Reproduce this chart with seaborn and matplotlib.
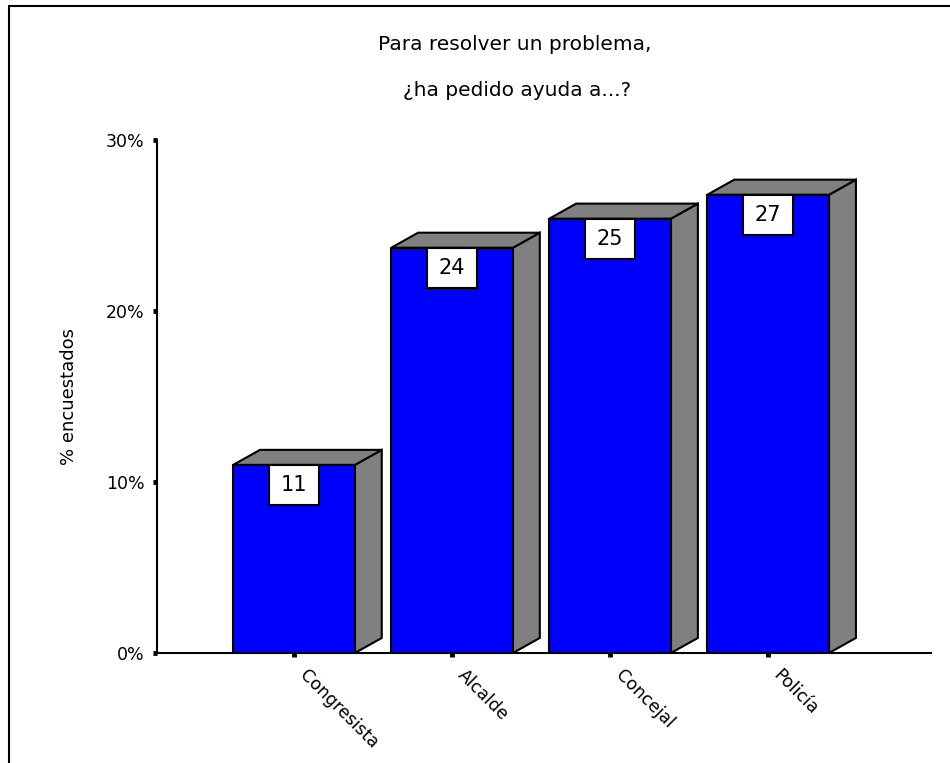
import numpy as np
import pandas as pd
import matplotlib
matplotlib.use('Agg')
import matplotlib.pyplot as plt
import matplotlib.transforms as mtransforms
import seaborn as sns
from matplotlib.patches import Polygon, Rectangle
from matplotlib.lines import Line2D


categories = ['Congresista', 'Alcalde', 'Concejal', 'Policía']
percent = [11.0, 23.7, 25.4, 26.8]
bar_labels = ['11', '24', '25', '27']
yticks = [0, 10, 20, 30]
ytick_labels = ['0%', '10%', '20%', '30%']
title_lines = ['Para resolver un problema,', '¿ha pedido ayuda a...?']

df = pd.DataFrame({'cargo': categories, 'pct': percent})

sns.set_style('white')
plt.rcParams['font.family'] = ['DejaVu Sans']
plt.rcParams['text.color'] = 'black'
plt.rcParams['axes.labelcolor'] = 'black'
plt.rcParams['xtick.color'] = 'black'
plt.rcParams['ytick.color'] = 'black'

fig = plt.figure(figsize=(9.5, 7.63), dpi=100)
ax = fig.add_axes([157/950, 110/763, 774/950, 513/763])

sns.barplot(data=df, x='cargo', y='pct', color='#0000FF', saturation=1,
            width=0.77, edgecolor='black', linewidth=1.5, ax=ax, zorder=3)

# fake 3d depth
dx, dy = 0.17, 0.88
bw, bh = 0.316, 2.34
bars = list(ax.patches)
for bar, lab in zip(bars, bar_labels):
    x0 = bar.get_x()
    x1 = x0 + bar.get_width()
    h = bar.get_height()
    side = Polygon([(x1, 0), (x1 + dx, dy), (x1 + dx, h + dy), (x1, h)], closed=True,
                   facecolor='#808080', edgecolor='black', linewidth=1.5, zorder=2)
    top = Polygon([(x0, h), (x0 + dx, h + dy), (x1 + dx, h + dy), (x1, h)], closed=True,
                  facecolor='#808080', edgecolor='black', linewidth=1.5, zorder=2)
    ax.add_patch(side)
    ax.add_patch(top)
    cx = x0 + bar.get_width() / 2
    ax.add_patch(Rectangle((cx - bw / 2, h - bh), bw, bh, facecolor='white',
                           edgecolor='black', linewidth=1.5, zorder=4))
    ax.text(cx, h - bh / 2, lab, ha='center', va='center', fontsize=15, zorder=5)

ax.set_xlim(-0.867, 4.03)
ax.set_ylim(0, 30)
ax.set_yticks(yticks)
ax.set_yticklabels(ytick_labels)
sns.despine(ax=ax)
for s in ['left', 'bottom']:
    ax.spines[s].set_linewidth(1.5)
    ax.spines[s].set_color('black')

ax.tick_params(axis='both', direction='out', length=3, width=3.5, color='black',
               labelsize=12.5, labelcolor='black', bottom=True, left=True)
ax.tick_params(axis='y', pad=6)
ax.tick_params(axis='x', pad=11)
ax.set_xlabel('')
offset = mtransforms.ScaledTranslation(0.08, 0, fig.dpi_scale_trans)
for t in ax.get_xticklabels():
    t.set_rotation(-45)
    t.set_ha('left')
    t.set_va('center')
    t.set_rotation_mode('anchor')
    t.set_transform(t.get_transform() + offset)

ax.set_ylabel('% encuestados', fontsize=13)
ax.yaxis.set_label_coords(-0.114, 0.5)
ax.yaxis.label.set_va('center')

fig.text(515/950, 1 - 50/763, title_lines[0], ha='center', va='baseline', fontsize=14.5)
fig.text(517/950, 1 - 96/763, title_lines[1], ha='center', va='baseline', fontsize=14.5)

# frame lines around the figure
fig.add_artist(Line2D([9/950, 1], [1 - 6/763, 1 - 6/763], color='black', linewidth=1.5))
fig.add_artist(Line2D([9/950, 9/950], [0, 1 - 6/763], color='black', linewidth=1.5))

fig.savefig('out.png', dpi=100)
